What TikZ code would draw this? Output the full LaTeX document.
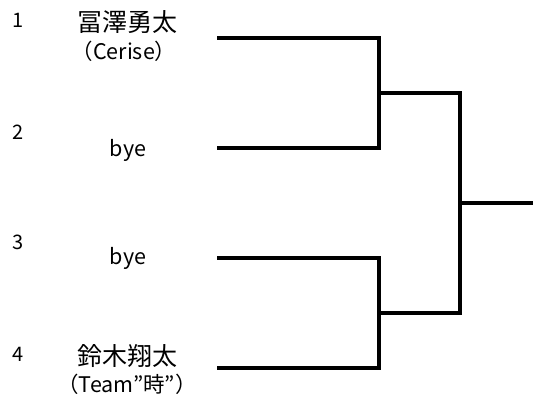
\documentclass[tikz,border=0pt]{standalone}
\usepackage{fontspec}
\setmainfont{Noto Sans CJK JP}
\usepackage{tikz}

\begin{document}
\begin{tikzpicture}[x=1pt,y=-1pt,line join=miter,
	seed/.style={font=\fontsize{20}{20}\selectfont},
	name node/.style={font=\fontsize{25}{25}\selectfont},
	team node/.style={font=\fontsize{21.5}{21.5}\selectfont},
	bracket/.style={line width=4pt}]
	\useasboundingbox (0,0) rectangle (534,397);
	\draw (18,20) node(n1) [seed] {1}
	      (18,132) node(n2) [seed] {2}
	      (18,242) node(n3) [seed] {3}
	      (18,354) node(n4) [seed] {4};
	\draw (127,22) node(p1) [name node] {冨澤勇太}
	      (124,51) node(t1) [team node] {（Cerise）}
	      (128,150) node(p2) [team node] {bye}
	      (128,258) node(p3) [team node] {bye}
	      (127,356) node(p4) [name node] {鈴木翔太}
	      (127,384) node(t4) [team node] {（Team”時”）};
	\coordinate (s1) at (217,38);
	\coordinate (s2) at (217,148);
	\coordinate (s3) at (217,258);
	\coordinate (s4) at (217,368);
	\coordinate (w1) at (379,93);
	\coordinate (w2) at (379,313);
	\coordinate (f) at (460,203);
	\coordinate (fin) at (533,203);
	\draw[bracket] (s1) -| (w1) |- (s2);
	\draw[bracket] (s3) -| (w2) |- (s4);
	\draw[bracket] (w1) -| (f) |- (w2);
	\draw[bracket] (f) -- (fin);
\end{tikzpicture}
\end{document}
